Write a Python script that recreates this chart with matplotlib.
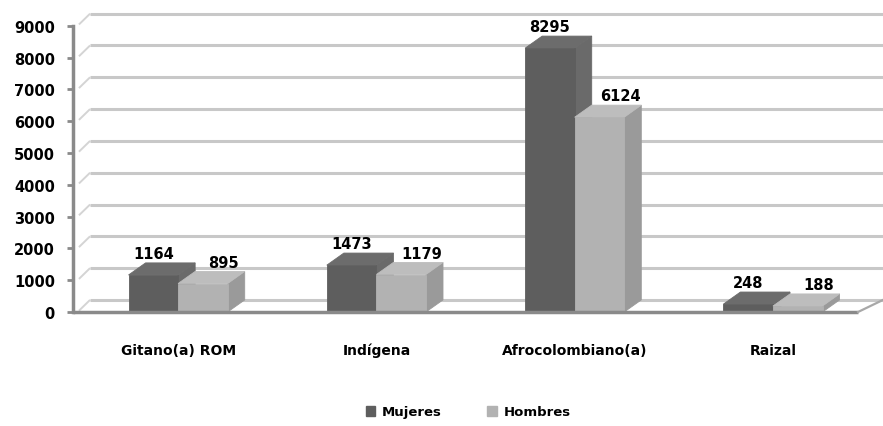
import numpy as np
import matplotlib
matplotlib.use("Agg")
from matplotlib import pyplot as plt
from matplotlib.patches import Polygon, Patch

plt.rcParams['font.family'] = ['DejaVu Sans']
plt.rcParams['font.weight'] = 'bold'

# datos
categorias = ["Gitano(a) ROM", "Indígena", "Afrocolombiano(a)", "Raizal"]
mujeres = [1164, 1473, 8295, 248]
hombres = [895, 1179, 6124, 188]
y_ticks = [0, 1000, 2000, 3000, 4000, 5000, 6000, 7000, 8000, 9000]
y_tick_labels = ["0", "1000", "2000", "3000", "4000", "5000", "6000", "7000", "8000", "9000"]

# colores (frente, tapa, lado)
col_muj = ("#5e5e5e", "#6c6c6c", "#6a6a6a")
col_hom = ("#b2b2b2", "#bdbdbd", "#9a9a9a")
col_grid = "#c8c8c8"
col_axis = "#8a8a8a"

# profundidad 3D en unidades de datos
dx = 0.086
dy = 380
ancho = 0.25
x0, x1 = -0.53, 3.555

fig = plt.figure(figsize=(8.83, 4.27), dpi=100)
ax = fig.add_axes([73 / 883, 114 / 427, 810 / 883, 308.5 / 427])
ax.set_xlim(x0, x1)
ax.set_ylim(0, 9700)
for s in ['top', 'right', 'bottom']:
    ax.spines[s].set_visible(False)
ax.spines['left'].set_color(col_axis)
ax.spines['left'].set_linewidth(2.5)
ax.spines['left'].set_bounds(0, 9000)

# pared del fondo: lineas de rejilla
for v in y_ticks:
    ax.plot([x0 + 0.03, x0 + dx], [v + 40, v + dy], color="#d4d4d4", lw=1.4,
            solid_capstyle='butt', zorder=1)
    ax.plot([x0 + dx, x1], [v + dy, v + dy], color=col_grid, lw=2.2,
            solid_capstyle='butt', zorder=1)

# suelo
ax.plot([x0, x1 - dx - 0.04], [0, 0], color=col_axis, lw=2.5, zorder=20,
        solid_capstyle='butt', clip_on=False)
ax.plot([x1 - dx - 0.04, x1], [0, dy], color="#a8a8a8", lw=1.6, zorder=20, clip_on=False)

x = np.arange(len(categorias))


def barra3d(xl, h, cols, z):
    lado = [(xl + ancho, 0), (xl + ancho + dx, dy), (xl + ancho + dx, h + dy), (xl + ancho, h)]
    tapa = [(xl, h), (xl + ancho, h), (xl + ancho + dx, h + dy), (xl + dx, h + dy)]
    ax.add_patch(Polygon(lado, closed=True, facecolor=cols[2], edgecolor=cols[2],
                         lw=0.6, zorder=z))
    ax.add_patch(Polygon(tapa, closed=True, facecolor=cols[1], edgecolor=cols[1],
                         lw=0.6, zorder=z + 0.1))
    ax.bar(xl, h, width=ancho, align='edge', color=cols[0], edgecolor=cols[0],
           lw=0.6, zorder=z + 0.2)


for i in range(len(categorias)):
    barra3d(x[i] - ancho, mujeres[i], col_muj, 3 + 2 * i)
    barra3d(x[i], hombres[i], col_hom, 4 + 2 * i)
    ax.text(x[i] - ancho / 2, mujeres[i] + dy + 60, str(mujeres[i]), ha='center', va='bottom',
            fontsize=10.5, fontweight='bold', zorder=30)
    ax.text(x[i] + ancho / 2 + 0.105, hombres[i] + dy + 60, str(hombres[i]), ha='center', va='bottom',
            fontsize=10.5, fontweight='bold', zorder=30)

ax.set_yticks(y_ticks)
ax.set_yticklabels(y_tick_labels, fontsize=10.5, fontweight='bold')
ax.tick_params(axis='y', length=4, width=2, color=col_axis, pad=9)
ax.set_xticks(x)
ax.set_xticklabels(categorias, fontsize=10, fontweight='bold')
ax.tick_params(axis='x', length=0, pad=22)

handles = [Patch(color=col_muj[0], label="Mujeres"), Patch(color=col_hom[0], label="Hombres")]
fig.legend(handles=handles, loc='center', bbox_to_anchor=(0.53, 14 / 427), ncol=2,
           frameon=False, fontsize=9.5, handlelength=0.7, handleheight=0.7,
           handletextpad=0.5, columnspacing=3.5)

fig.savefig("out.png", dpi=100)
